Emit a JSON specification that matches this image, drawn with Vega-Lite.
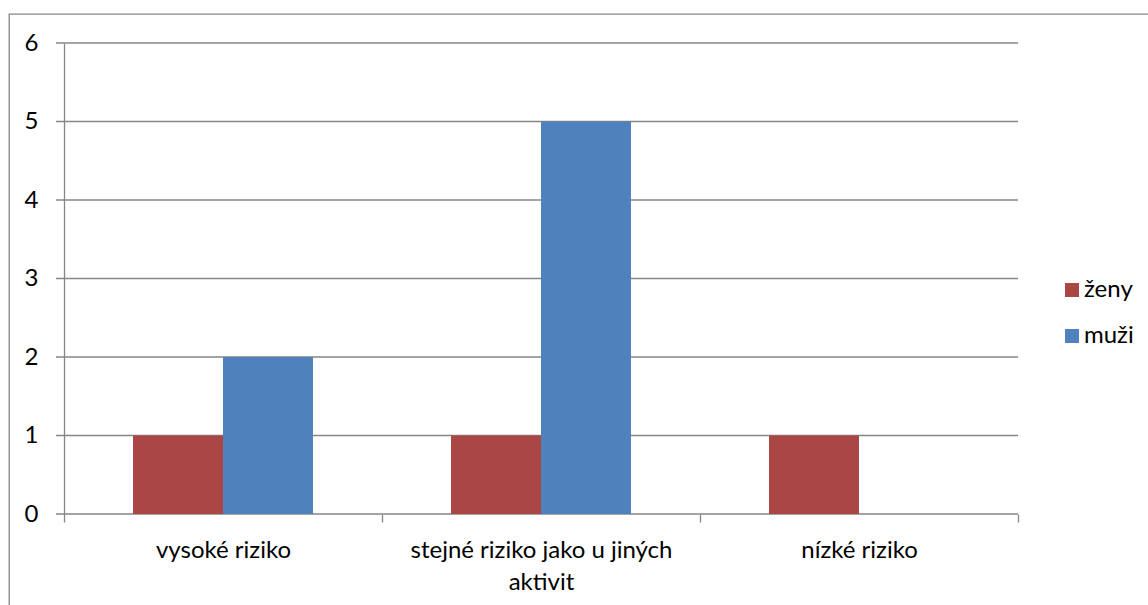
{
  "$schema": "https://vega.github.io/schema/vega-lite/v6.json",
  "autosize": "none",
  "width": 1160,
  "height": 620,
  "padding": {"left": 9, "top": 14, "right": 0, "bottom": 0},
  "background": "white",
  "config": {
    "font": "Lato",
    "view": {"stroke": "#868686", "strokeWidth": 1.3}
  },
  "datasets": {
    "counts": [
      {"odpoved": "vysoké riziko", "pohlavi": "ženy", "pocet": 1},
      {"odpoved": "vysoké riziko", "pohlavi": "muži", "pocet": 2},
      {"odpoved": "stejné riziko jako u jiných aktivit", "pohlavi": "ženy", "pocet": 1},
      {"odpoved": "stejné riziko jako u jiných aktivit", "pohlavi": "muži", "pocet": 5},
      {"odpoved": "nízké riziko", "pohlavi": "ženy", "pocet": 1},
      {"odpoved": "nízké riziko", "pohlavi": "muži", "pocet": 0}
    ],
    "gridTicks": [{"v": 0}, {"v": 1}, {"v": 2}, {"v": 3}, {"v": 4}, {"v": 5}, {"v": 6}]
  },
  "layer": [
    {
      "data": {"name": "gridTicks"},
      "mark": {"type": "rule", "color": "#868686", "strokeWidth": 1.3},
      "encoding": {
        "y": {
          "field": "v",
          "type": "quantitative",
          "scale": {"domain": [0, 6], "range": [500, 29], "nice": false, "zero": false},
          "axis": null
        },
        "x": {
          "datum": 0,
          "type": "quantitative",
          "scale": {"domain": [0, 1], "range": [47, 1009], "nice": false, "zero": false},
          "axis": null
        },
        "x2": {"datum": 1}
      }
    },
    {
      "data": {"name": "counts"},
      "mark": {"type": "bar"},
      "encoding": {
        "x": {
          "field": "odpoved",
          "type": "nominal",
          "sort": ["vysoké riziko", "stejné riziko jako u jiných aktivit", "nízké riziko"],
          "scale": {"range": [55, 1009], "paddingInner": 0, "paddingOuter": 0},
          "axis": {
            "orient": "bottom",
            "offset": -120,
            "title": null,
            "domain": false,
            "ticks": true,
            "tickBand": "extent",
            "tickSize": 8,
            "tickColor": "#868686",
            "tickWidth": 1.3,
            "labelAngle": 0,
            "labelFontSize": 24,
            "labelColor": "#000000",
            "labelPadding": 16,
            "labelLineHeight": 32,
            "labelLimit": 400,
            "labelExpr": "datum.label == 'stejné riziko jako u jiných aktivit' ? ['stejné riziko jako u jiných', 'aktivit'] : datum.label"
          }
        },
        "xOffset": {
          "field": "pohlavi",
          "type": "nominal",
          "sort": ["ženy", "muži"],
          "scale": {"paddingInner": 0, "paddingOuter": 0.767}
        },
        "y": {
          "field": "pocet",
          "type": "quantitative",
          "scale": {"domain": [0, 6], "range": [500, 29], "nice": false},
          "axis": {
            "orient": "left",
            "offset": -55,
            "title": null,
            "values": [0, 1, 2, 3, 4, 5, 6],
            "grid": false,
            "ticks": false,
            "domainColor": "#868686",
            "domainWidth": 1.3,
            "labelFontSize": 24,
            "labelColor": "#000000",
            "labelPadding": 26
          }
        },
        "color": {
          "field": "pohlavi",
          "type": "nominal",
          "sort": ["ženy", "muži"],
          "scale": {"range": ["#AA4643", "#4F81BD"]},
          "legend": {
            "orient": "none",
            "legendX": 1051,
            "legendY": 264,
            "title": null,
            "padding": 0,
            "symbolType": "square",
            "symbolSize": 196,
            "symbolStrokeWidth": 0,
            "symbolOpacity": 1,
            "labelFontSize": 24,
            "labelColor": "#000000",
            "labelOffset": 0,
            "rowPadding": 22
          }
        }
      }
    }
  ],
  "resolve": {"scale": {"x": "independent", "y": "independent"}}
}
